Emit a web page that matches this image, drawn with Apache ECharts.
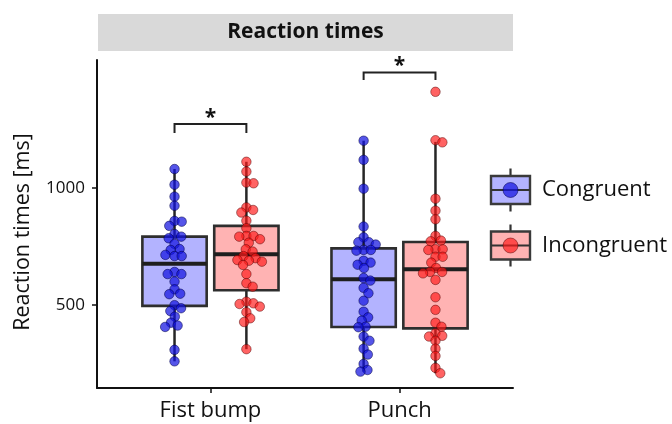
<!DOCTYPE html>
<html>
<head>
<meta charset="utf-8">
<script src="https://cdn.jsdelivr.net/npm/echarts@6/dist/echarts.min.js"></script>
<style>html,body{margin:0;padding:0;background:#fff}#c{width:672px;height:424px}</style>
</head>
<body>
<div id="c"></div>
<script>
// ---------- data ----------
const categories = ['Fist bump', 'Punch'];
const conditions = ['Congruent', 'Incongruent'];
const yTicks = [500, 1000];

const fistBumpCongruent = [1081,1014,963,924,859,856,838,803,785,792,761,735,739,714,709,709,632,641,632,600,546,567,548,499,486,474,450,424,412,406,308,259];
const fistBumpIncongruent = [1112,1070,1020,1023,917,895,906,860,828,795,792,766,781,795,738,728,709,685,689,700,692,671,632,593,578,504,514,507,493,469,443,427,311];
const punchCongruent = [1202,1120,997,835,768,768,789,758,735,732,735,672,681,689,658,615,604,573,550,518,471,447,433,405,407,365,347,313,288,248,215,222];
const punchIncongruent = [1411,1195,1204,954,903,866,795,775,772,735,738,738,706,706,681,658,641,641,635,607,533,479,424,407,365,379,368,347,313,282,231,208];

// box stats: [lower whisker, Q1, median, Q3, upper whisker]
const fistBumpCongruentBox = [259,496,676,792,1081];
const fistBumpIncongruentBox = [311,563,717,838,1112];
const punchCongruentBox = [215,406,610,742,1202];
const punchIncongruentBox = [208,400,653,769,1197];

// significance brackets
const bracketTop = [1273, 1494];
const bracketLeg = [1235, 1462];
const bracketLabel = ['*', '*'];

// ---------- layout / style ----------
const DODGE = 0.19, BOXHALF = 0.17;
const boxFill = ['#b3b3ff', '#ffb3b3'];
const ptFill = ['rgba(20,20,225,0.72)', 'rgba(255,25,25,0.68)'];
const ptStroke = ['rgba(0,0,70,0.65)', 'rgba(80,0,0,0.6)'];
const FONT = 'Open Sans';

const groups = [
  {cat: 0, cond: 0, vals: fistBumpCongruent, box: fistBumpCongruentBox},
  {cat: 0, cond: 1, vals: fistBumpIncongruent, box: fistBumpIncongruentBox},
  {cat: 1, cond: 0, vals: punchCongruent, box: punchCongruentBox},
  {cat: 1, cond: 1, vals: punchIncongruent, box: punchIncongruentBox}
];
function groupX(g) { return (g.cat + 1) + (g.cond === 0 ? -DODGE : DODGE); }

const chart = echarts.init(document.getElementById('c'), null, {renderer: 'canvas'});

function renderBox(params, api) {
  const x = api.value(0);
  const cond = api.value(6);
  const y = (i) => api.coord([x, api.value(i)])[1];
  const cx = api.coord([x, 500])[0];
  const l = api.coord([x - BOXHALF, 500])[0];
  const r = api.coord([x + BOXHALF, 500])[0];
  return {type: 'group', children: [
    {type: 'line', shape: {x1: cx, y1: y(1), x2: cx, y2: y(5)}, style: {stroke: '#262626', lineWidth: 2.5}},
    {type: 'rect', shape: {x: l, y: y(4), width: r - l, height: y(2) - y(4)}, style: {fill: boxFill[cond], stroke: '#2e2e2e', lineWidth: 2.6}},
    {type: 'line', shape: {x1: l, y1: y(3), x2: r, y2: y(3)}, style: {stroke: '#1e1e1e', lineWidth: 4}}
  ]};
}

function renderBracket(params, api) {
  const g = api.value(0);
  const pL = api.coord([g - DODGE, api.value(2)]);
  const pR = api.coord([g + DODGE, api.value(2)]);
  const tL = api.coord([g - DODGE, api.value(1)]);
  const tR = api.coord([g + DODGE, api.value(1)]);
  return {type: 'group', children: [
    {type: 'polyline', shape: {points: [pL, tL, tR, pR]}, style: {stroke: '#222', lineWidth: 2, fill: null}},
    {type: 'text', x: (tL[0] + tR[0]) / 2, y: tL[1] + 4, style: {text: bracketLabel[params.dataIndex], font: 'bold 21px "' + FONT + '"', fill: '#111', align: 'center', verticalAlign: 'bottom'}}
  ]};
}

const boxData = groups.map(g => [groupX(g)].concat(g.box).concat([g.cond]));
const bracketData = bracketTop.map((t, i) => [i + 1, t, bracketLeg[i]]);

function legendGraphic() {
  const items = [];
  const keys = [{cy: 190, h: 28, wh: 43}, {cy: 245.5, h: 28, wh: 42}];
  keys.forEach((k, i) => {
    const x0 = 491, w = 39, cx = x0 + w / 2;
    items.push({type: 'line', shape: {x1: cx, y1: k.cy - k.wh / 2, x2: cx, y2: k.cy + k.wh / 2}, style: {stroke: '#333', lineWidth: 2.2}});
    items.push({type: 'rect', shape: {x: x0, y: k.cy - k.h / 2, width: w, height: k.h}, style: {fill: boxFill[i], stroke: '#3a3a3a', lineWidth: 2.4}});
    items.push({type: 'line', shape: {x1: x0, y1: k.cy, x2: x0 + w, y2: k.cy}, style: {stroke: '#333', lineWidth: 2}});
    items.push({type: 'circle', shape: {cx: cx, cy: k.cy, r: 7.5}, style: {fill: ptFill[i], stroke: ptStroke[i], lineWidth: 0.8}});
    items.push({type: 'text', x: 542, y: k.cy, style: {text: conditions[i], font: '22px "' + FONT + '"', fill: '#111', verticalAlign: 'middle'}});
  });
  return items;
}

const baseOption = {
  animation: false,
  backgroundColor: '#fff',
  grid: {left: 97, right: 159, top: 60, bottom: 36},
  graphic: [
    {type: 'rect', left: 98, top: 14, shape: {width: 415, height: 37}, style: {fill: '#d9d9d9'}, silent: true},
    {type: 'text', x: 305.5, y: 32.5, style: {text: 'Reaction times', font: 'bold 21px "' + FONT + '"', fill: '#111', align: 'center', verticalAlign: 'middle'}}
  ].concat(legendGraphic()),
  xAxis: {
    type: 'value', min: 0.4, max: 2.6,
    splitLine: {show: false},
    axisLine: {show: true, onZero: false, lineStyle: {color: '#111', width: 2}},
    axisTick: {show: true, customValues: [1, 2], length: 5, lineStyle: {color: '#111', width: 1.5}},
    axisLabel: {customValues: [1, 2], formatter: v => categories[Math.round(v) - 1], fontFamily: FONT, fontSize: 22, color: '#111', margin: 12}
  },
  yAxis: {
    type: 'value', min: 145, max: 1547,
    name: 'Reaction times [ms]', nameLocation: 'middle', nameGap: 63,
    nameTextStyle: {fontFamily: FONT, fontSize: 21.5, color: '#111', padding: [0, 16, 0, 0]},
    splitLine: {show: false},
    axisLine: {show: true, onZero: false, lineStyle: {color: '#111', width: 2}},
    axisTick: {show: true, customValues: yTicks, length: 5, lineStyle: {color: '#111', width: 1.5}},
    axisLabel: {customValues: yTicks, formatter: v => String(v), fontFamily: FONT, fontSize: 17, color: '#111', margin: 12}
  },
  series: [
    {type: 'custom', name: 'boxes', renderItem: renderBox, data: boxData, encode: {x: 0, y: [1, 2, 3, 4, 5]}, z: 2, silent: true, clip: false},
    {type: 'custom', name: 'brackets', renderItem: renderBracket, data: bracketData, encode: {x: 0, y: [1, 2]}, z: 2, silent: true, clip: false}
  ]
};
chart.setOption(baseOption);

// deterministic beeswarm layout computed through the chart's scales
const D = 7.2; // px spacing between point centres
const pxPerUnit = chart.convertToPixel({gridIndex: 0}, [2, 500])[0] - chart.convertToPixel({gridIndex: 0}, [1, 500])[0];
const scatterSeries = [0, 1].map(cond => ({type: 'scatter', name: conditions[cond], data: [], symbolSize: 9.5, z: 5,
  itemStyle: {color: ptFill[cond], borderColor: ptStroke[cond], borderWidth: 0.8, opacity: 1}}));

groups.forEach(g => {
  const cxv = groupX(g);
  const pts = g.vals.map(v => ({v: v, py: chart.convertToPixel({gridIndex: 0}, [cxv, v])[1]}));
  pts.sort((a, b) => a.py - b.py);
  const placed = [];
  pts.forEach(p => {
    const cands = [0];
    placed.forEach(q => {
      const dy = Math.abs(q.py - p.py);
      if (dy < D) {
        const dx = Math.sqrt(D * D - dy * dy);
        cands.push(q.ox + dx, q.ox - dx);
      }
    });
    const ok = cands.filter(c => placed.every(q => {
      const dy = q.py - p.py, dx = q.ox - c;
      return dx * dx + dy * dy >= D * D - 0.01;
    }));
    ok.sort((a, b) => Math.abs(a) - Math.abs(b) || b - a);
    p.ox = ok[0];
    placed.push(p);
  });
  placed.forEach(p => scatterSeries[g.cond].data.push([cxv + p.ox / pxPerUnit, p.v]));
});

chart.setOption({series: baseOption.series.concat(scatterSeries)});
</script>
</body>
</html>
